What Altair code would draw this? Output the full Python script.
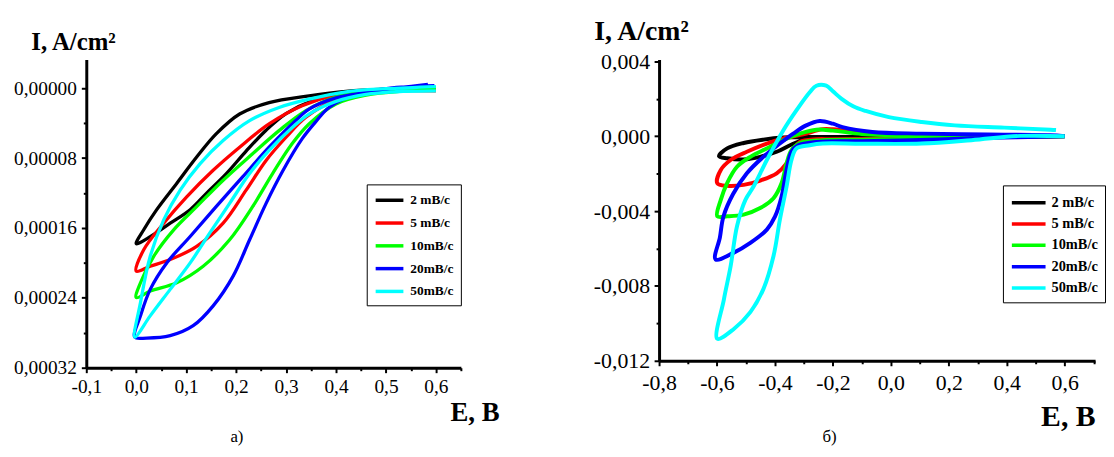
import altair as alt
import pandas as pd

FONT = "Liberation Serif"

series = ["2 mB/c", "5 mB/c", "10mB/c", "20mB/c", "50mB/c"]
colors = ["#000000", "#ff0000", "#00ff00", "#0000ff", "#00ffff"]

# ---------------- panel а): E (V) and I (A/cm2, axis drawn downward) ----------------
a2_E = [0.60, 0.50, 0.42, 0.346, 0.266, 0.207, 0.160, 0.121, 0.081, 0.041, 0.015, 0.0,
        0.028, 0.068, 0.108, 0.141, 0.18, 0.22, 0.26, 0.30, 0.35, 0.42, 0.50, 0.60]
a2_I = [0.0, 0.000001, 0.0000035, 0.0000087, 0.0000164, 0.0000295, 0.0000523, 0.0000788, 0.000109, 0.000139, 0.000162, 0.000178,
        0.000170, 0.0001545, 0.000139, 0.000120, 0.000098, 0.000072, 0.000048, 0.000029, 0.000015, 0.000006, 0.000002, 0.0000005]

a5_E = [0.60, 0.48, 0.40, 0.332, 0.266, 0.207, 0.154, 0.101, 0.055, 0.015, 0.0,
        0.028, 0.068, 0.121, 0.174, 0.22, 0.26, 0.30, 0.339, 0.40, 0.48, 0.60]
a5_I = [0.0, 0.000002, 0.0000075, 0.0000201, 0.0000409, 0.0000675, 0.0000939, 0.0001243, 0.0001545, 0.000185, 0.0002094,
        0.0002038, 0.0001962, 0.0001811, 0.0001545, 0.0001167, 0.0000826, 0.0000561, 0.0000334, 0.000013, 0.000004, 0.000003]

a10_E = [0.60, 0.48, 0.40, 0.339, 0.286, 0.233, 0.174, 0.121, 0.075, 0.035, 0.0085, 0.0,
         0.028, 0.081, 0.134, 0.187, 0.233, 0.273, 0.312, 0.346, 0.40, 0.46, 0.54, 0.60]
a10_I = [-0.000001, 0.000003, 0.00001, 0.0000258, 0.0000485, 0.000075, 0.0001053, 0.0001356, 0.0001621, 0.0001924, 0.0002227, 0.0002397,
         0.0002322, 0.0002227, 0.0002038, 0.0001735, 0.0001356, 0.0000977, 0.0000636, 0.0000409, 0.000018, 0.000008, 0.000003, 0.000001]

a20_E = [0.584, 0.48, 0.40, 0.346, 0.319, 0.266, 0.213, 0.160, 0.108, 0.061, 0.028, 0.0085, -0.003,
         0.021, 0.068, 0.114, 0.154, 0.194, 0.227, 0.260, 0.293, 0.332, 0.36, 0.386, 0.439, 0.505, 0.597]
a20_I = [-0.0000045, 0.000003, 0.000011, 0.0000239, 0.0000371, 0.0000675, 0.0001015, 0.0001356, 0.0001697, 0.0002, 0.0002303, 0.0002606, 0.000285,
         0.000286, 0.0002833, 0.0002719, 0.0002492, 0.0002151, 0.0001735, 0.0001318, 0.000095, 0.000058, 0.000038, 0.000022, 0.0000068, 0.0, -0.000003]

a50_E = [0.60, 0.50, 0.42, 0.346, 0.286, 0.227, 0.174, 0.128, 0.088, 0.055, 0.028, 0.0085, -0.003,
         0.028, 0.068, 0.108, 0.147, 0.187, 0.227, 0.266, 0.313, 0.346, 0.40, 0.46, 0.52, 0.60]
a50_I = [-0.000002, 0.0000005, 0.000004, 0.0000125, 0.000022, 0.0000371, 0.0000599, 0.0000863, 0.0001167, 0.0001507, 0.0001924, 0.0002454, 0.000285,
         0.0002606, 0.0002303, 0.0002, 0.0001659, 0.0001318, 0.0000977, 0.0000712, 0.0000447, 0.0000295, 0.000015, 0.000007, 0.000004, 0.000003]

# ---------------- panel б): E (V) and I (A/cm2) ----------------
b2_E = [0.60, 0.30, 0.0, -0.2, -0.303, -0.371, -0.44, -0.508, -0.565, -0.593,
        -0.565, -0.508, -0.451, -0.394, -0.348, -0.303, -0.235, -0.1, 0.1, 0.3, 0.45, 0.60]
b2_I = [0.0, -0.00002, -0.00003, -0.00004, -0.00004, -0.00007, -0.00018, -0.00036, -0.00065, -0.00107,
        -0.00118, -0.00124, -0.0011, -0.00083, -0.00048, -0.00021, -0.00012, -0.0001, -0.0001, -0.00006, -0.00002, 0.0]

b5_E = [0.60, 0.30, 0.0, -0.2, -0.257, -0.314, -0.337, -0.36, -0.394, -0.451, -0.508, -0.565, -0.599,
        -0.587, -0.553, -0.497, -0.428, -0.371, -0.303, -0.235, -0.2, -0.15, -0.05, 0.1, 0.3, 0.6]
b5_I = [0.0, -0.00005, -0.00012, -0.00016, -0.00016, -0.0003, -0.00074, -0.00145, -0.00198, -0.00237, -0.0026, -0.00265, -0.00251,
        -0.0018, -0.00127, -0.00083, -0.00039, -0.00012, 0.0001, 0.00038, 0.00037, 0.00027, 0.0001, 0.00005, 0.00002, 0.0]

b10_E = [0.60, 0.30, 0.1, -0.1, -0.235, -0.314, -0.343, -0.36, -0.377, -0.405, -0.451, -0.508, -0.565, -0.599,
         -0.587, -0.565, -0.531, -0.485, -0.428, -0.371, -0.314, -0.257, -0.2, -0.1, 0.0, 0.2, 0.6]
b10_I = [0.0, -0.00005, -0.00012, -0.00018, -0.00021, -0.00036, -0.00074, -0.00145, -0.0025, -0.00331, -0.00384, -0.00419, -0.00428, -0.00428,
         -0.0034, -0.0025, -0.00163, -0.0011, -0.00065, -0.00021, 0.00014, 0.00035, 0.0003, 0.00012, 0.00006, 0.00002, 0.0]

b20_E = [0.60, 0.30, 0.1, -0.1, -0.257, -0.32, -0.343, -0.36, -0.377, -0.40, -0.428, -0.485, -0.542, -0.605,
         -0.59, -0.578, -0.545, -0.497, -0.44, -0.383, -0.337, -0.292, -0.246, -0.2, -0.167, -0.064, 0.107, 0.335, 0.55, 0.60]
b20_I = [0.0, -0.0001, -0.0002, -0.00026, -0.0003, -0.00048, -0.00083, -0.0018, -0.00322, -0.0043, -0.00499, -0.0057, -0.00622, -0.00658,
         -0.0054, -0.0043, -0.0031, -0.00198, -0.0011, -0.00039, 0.00014, 0.00058, 0.00081, 0.00067, 0.00049, 0.00023, 0.00014, 0.00009, 0.00005, 0.0]

b50_E = [0.60, 0.449, 0.278, 0.107, -0.1, -0.235, -0.28, -0.326, -0.343, -0.36, -0.383, -0.405, -0.44, -0.485, -0.542, -0.599,
         -0.576, -0.553, -0.531, -0.502, -0.474, -0.428, -0.371, -0.326, -0.28, -0.257, -0.223, -0.2, -0.17, -0.13, -0.087, -0.007,
         0.107, 0.221, 0.391, 0.551, 0.57]
b50_I = [0.0, 0.00002, -0.00021, -0.00039, -0.0004, -0.00039, -0.00048, -0.00065, -0.00127, -0.00269, -0.00446, -0.0064, -0.00817, -0.0094, -0.0103, -0.01082,
         -0.0087, -0.00694, -0.00481, -0.0034, -0.00269, -0.00127, 0.00032, 0.00138, 0.00235, 0.0027, 0.0027, 0.0024, 0.00200, 0.0016, 0.00135, 0.00102,
         0.00076, 0.00058, 0.00046, 0.00035, 0.00033]

# tick values
a_x_ticks = [-0.1, -0.05, 0.0, 0.05, 0.1, 0.15, 0.2, 0.25, 0.3, 0.35, 0.4, 0.45, 0.5, 0.55, 0.6, 0.65]
a_y_ticks = [0.0, 0.00004, 0.00008, 0.00012, 0.00016, 0.0002, 0.00024, 0.00028, 0.00032]
b_x_ticks = [-0.8, -0.7, -0.6, -0.5, -0.4, -0.3, -0.2, -0.1, 0.0, 0.1, 0.2, 0.3, 0.4, 0.5, 0.6, 0.7]
b_y_ticks = [-0.012, -0.010, -0.008, -0.006, -0.004, -0.002, 0.0, 0.002, 0.004]


def frame(E_lists, I_lists):
    rows = []
    for s, Es, Is in zip(series, E_lists, I_lists):
        for k, (e, i) in enumerate(zip(Es, Is)):
            rows.append({"series": s, "E": e, "I": i, "k": k})
    return pd.DataFrame(rows)


df_a = frame([a2_E, a5_E, a10_E, a20_E, a50_E], [a2_I, a5_I, a10_I, a20_I, a50_I])
df_b = frame([b2_E, b5_E, b10_E, b20_E, b50_E], [b2_I, b5_I, b10_I, b20_I, b50_I])


def axis(title, values, mult, dec, lsize, lpad, tfs, tx, ty):
    test = f"abs(datum.value*{mult} - round(datum.value*{mult})) < 1e-6"
    lbl = (f"{test} ? replace(replace(format(datum.value, '.{dec}f'), '.', ','), '\u2212', '-') : ''")
    return alt.Axis(
        title=title, values=values, labelExpr=lbl,
        tickSize={"condition": {"test": f"!({test})", "value": 3}, "value": 5},
        tickWidth=2, tickColor="black", domainColor="black", domainWidth=3,
        labelFont=FONT, labelFontSize=lsize, labelColor="black", labelPadding=lpad,
        labelOverlap=False, labelFlush=False, grid=False,
        titleFont=FONT, titleFontSize=tfs, titleFontWeight="bold", titleColor="black",
        titleAngle=0, titleAlign="left", titleBaseline="alphabetic", titleX=tx, titleY=ty,
    )


def legend(lx, ly, size, offset, fs, rowpad):
    return alt.Legend(
        title=None, orient="none", legendX=lx, legendY=ly, direction="vertical",
        symbolType="M-1,0H3", symbolSize=size, symbolStrokeWidth=3.5,
        labelFont=FONT, labelFontWeight="bold", labelFontSize=fs, labelColor="black",
        labelOffset=offset, rowPadding=rowpad, padding=7, strokeColor="black",
        fillColor="white", labelLimit=200,
    )


def caption(text, x, y):
    return alt.Chart(pd.DataFrame({"t": [text]})).mark_text(
        font=FONT, fontSize=17, color="black", baseline="alphabetic", align="center"
    ).encode(text="t:N", x=alt.value(x), y=alt.value(y))


lines_a = alt.Chart(df_a).mark_line(strokeWidth=3.3, interpolate="catmull-rom").encode(
    x=alt.X("E:Q", scale=alt.Scale(domain=[-0.1, 0.65], nice=False, zero=False),
            axis=axis("E, B", a_x_ticks, 10, 1, 19.5, 5, 27, 367, 53)),
    y=alt.Y("I:Q", scale=alt.Scale(domain=[-0.0000329, 0.00032], reverse=True, nice=False, zero=False),
            axis=axis("I, A/cm²", a_y_ticks, 12500, 5, 19.5, 5, 25, -56, -10)),
    color=alt.Color("series:N", scale=alt.Scale(domain=series, range=colors),
                    legend=legend(283, 126, 196, 19, 13.5, 7)),
    order="k:Q",
)
panel_a = alt.layer(lines_a, caption("а)", 152, 386)).properties(width=378, height=311)

lines_b = alt.Chart(df_b).mark_line(strokeWidth=4, interpolate="catmull-rom").encode(
    x=alt.X("E:Q", scale=alt.Scale(domain=[-0.8, 0.705], nice=False, zero=False),
            axis=axis("E, B", b_x_ticks, 5, 1, 22, 7, 30, 385, 65)),
    y=alt.Y("I:Q", scale=alt.Scale(domain=[-0.012, 0.0041], nice=False, zero=False),
            axis=axis("I, A/cm²", b_y_ticks, 250, 3, 22, 4.5, 28, -66, -20)),
    color=alt.Color("series:N", scale=alt.Scale(domain=series, range=colors),
                    legend=legend(347, 127, 289, 21, 14.5, 3.5)),
    order="k:Q",
)
panel_b = alt.layer(lines_b, caption("б)", 172, 386)).properties(width=440, height=304)

chart = (
    alt.hconcat(panel_a, panel_b, spacing=200, bounds="flush")
    .resolve_scale(color="independent", x="independent", y="independent")
    .resolve_legend(color="independent")
    .properties(padding={"left": 5, "top": 8, "right": 0, "bottom": 0}, background="white")
    .configure(font=FONT)
    .configure_axis(labelFont=FONT, titleFont=FONT)
    .configure_legend(labelFont=FONT)
    .configure_view(stroke=None)
)

chart.save("out.html", embed_options={"renderer": "svg", "actions": False})
